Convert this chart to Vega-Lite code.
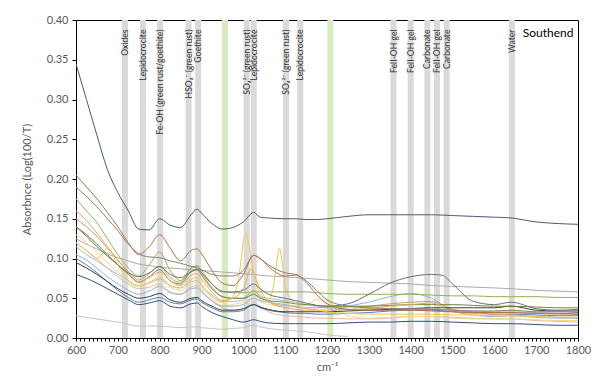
{
  "$schema": "https://vega.github.io/schema/vega-lite/v6.json",
  "autosize": {"type": "none"},
  "padding": {"left": 76, "top": 20, "right": 17, "bottom": 53},
  "width": 502,
  "height": 318,
  "background": "white",
  "config": {
    "view": {"stroke": "#000000", "strokeWidth": 1},
    "font": "Lato",
    "axis": {
      "grid": false,
      "labelOverlap": false,
      "domainColor": "#000000",
      "tickColor": "#000000",
      "labelColor": "#595959",
      "labelFont": "Lato",
      "labelFontSize": 11,
      "titleColor": "#595959",
      "titleFont": "Lato",
      "titleFontSize": 11,
      "titleFontWeight": "normal"
    }
  },
  "datasets": {
    "greyBands": [
      {"cm": 717}, {"cm": 760}, {"cm": 801}, {"cm": 869}, {"cm": 892},
      {"cm": 1008}, {"cm": 1025}, {"cm": 1102}, {"cm": 1136},
      {"cm": 1359}, {"cm": 1400}, {"cm": 1440}, {"cm": 1463}, {"cm": 1486}, {"cm": 1642}
    ],
    "greenBands": [{"cm": 956}, {"cm": 1208}],
    "labels": [
      {"cm": 717, "label": "Oxides"},
      {"cm": 760, "label": "Lepidocrocite"},
      {"cm": 801, "label": "Fe-OH (green rust/goethite)"},
      {"cm": 869, "label": "HSO₄⁻ (green rust)"},
      {"cm": 892, "label": "Goethite"},
      {"cm": 1008, "label": "SO₄²⁻ (green rust)"},
      {"cm": 1025, "label": "Lepidocrocite"},
      {"cm": 1102, "label": "SO₄²⁻ (green rust)"},
      {"cm": 1136, "label": "Lepidocrocite"},
      {"cm": 1359, "label": "FeII-OH gel"},
      {"cm": 1400, "label": "FeII-OH gel"},
      {"cm": 1440, "label": "Carbonate"},
      {"cm": 1463, "label": "FeII-OH gel"},
      {"cm": 1486, "label": "Carbonate"},
      {"cm": 1642, "label": "Water"}
    ],
    "spectra": [
      {"x":600,"A":0.345,"B":0.205,"C":0.190,"D":0.140,"E":0.125,"F":0.175,"G":0.120,"H":0.160,"I":0.130,"J":0.105,"K":0.100,"L":0.080,"M":0.095,"N":0.028,"O":0.120,"P":0.140,"Q":0.150,"R":0.115},
      {"x":610,"A":0.327},
      {"x":625,"A":0.300,"B":0.190,"C":0.178,"D":0.128,"E":0.118,"F":0.160,"G":0.110,"H":0.148,"I":0.120,"J":0.098,"K":0.092,"L":0.075,"M":0.088,"N":0.026,"O":0.110,"P":0.130,"Q":0.140,"R":0.105},
      {"x":650,"A":0.255,"B":0.175,"C":0.165,"D":0.115,"E":0.112,"F":0.145,"G":0.100,"H":0.132,"I":0.108,"J":0.088,"K":0.082,"L":0.069,"M":0.080,"N":0.024,"O":0.100,"P":0.118,"Q":0.128,"R":0.097},
      {"x":675,"A":0.212,"B":0.158,"C":0.150,"D":0.103,"E":0.106,"F":0.125,"G":0.112,"H":0.115,"I":0.095,"J":0.077,"K":0.071,"L":0.062,"M":0.071,"N":0.022,"O":0.088,"P":0.105,"Q":0.113,"R":0.088},
      {"x":700,"A":0.183,"B":0.140,"C":0.135,"D":0.092,"E":0.101,"F":0.105,"G":0.092,"H":0.098,"I":0.083,"J":0.068,"K":0.060,"L":0.055,"M":0.062,"N":0.020,"O":0.077,"P":0.092,"Q":0.098,"R":0.080},
      {"x":725,"A":0.160,"B":0.120,"C":0.118,"D":0.082,"E":0.097,"F":0.088,"G":0.072,"H":0.082,"I":0.072,"J":0.060,"K":0.051,"L":0.048,"M":0.055,"N":0.017,"O":0.068,"P":0.080,"Q":0.084,"R":0.072},
      {"x":750,"A":0.137,"B":0.105,"C":0.106,"D":0.077,"E":0.093,"F":0.078,"G":0.065,"H":0.071,"I":0.066,"J":0.055,"K":0.045,"L":0.042,"M":0.050,"N":0.015,"O":0.062,"P":0.070,"Q":0.073,"R":0.066},
      {"x":775,"A":0.136,"B":0.115,"C":0.102,"D":0.082,"E":0.091,"F":0.092,"G":0.070,"H":0.076,"I":0.069,"J":0.059,"K":0.048,"L":0.044,"M":0.052,"N":0.015,"O":0.064,"P":0.077,"Q":0.081,"R":0.069},
      {"x":800,"A":0.150,"B":0.130,"C":0.101,"D":0.090,"E":0.089,"F":0.108,"G":0.076,"H":0.083,"I":0.073,"J":0.065,"K":0.051,"L":0.047,"M":0.056,"N":0.015,"O":0.068,"P":0.086,"Q":0.090,"R":0.074},
      {"x":825,"A":0.142,"B":0.113,"C":0.097,"D":0.080,"E":0.088,"F":0.085,"G":0.066,"H":0.072,"I":0.064,"J":0.057,"K":0.045,"L":0.040,"M":0.048,"N":0.014,"O":0.058,"P":0.072,"Q":0.076,"R":0.066},
      {"x":850,"A":0.139,"B":0.097,"C":0.094,"D":0.076,"E":0.087,"F":0.072,"G":0.063,"H":0.066,"I":0.060,"J":0.055,"K":0.043,"L":0.038,"M":0.045,"N":0.013,"O":0.055,"P":0.068,"Q":0.070,"R":0.063},
      {"x":875,"A":0.155,"B":0.110,"C":0.090,"D":0.083,"E":0.086,"F":0.088,"G":0.074,"H":0.079,"I":0.068,"J":0.062,"K":0.048,"L":0.043,"M":0.050,"N":0.014,"O":0.064,"P":0.084,"Q":0.088,"R":0.071},
      {"x":890,"A":0.162,"B":0.112,"C":0.088,"D":0.086,"E":0.086,"F":0.091,"G":0.076,"H":0.081,"I":0.070,"J":0.063,"K":0.049,"L":0.044,"M":0.051,"N":0.014,"O":0.066,"P":0.086,"Q":0.090,"R":0.072},
      {"x":900,"A":0.157,"B":0.106,"C":0.086,"D":0.082,"E":0.085,"F":0.085,"G":0.068,"H":0.074,"I":0.064,"J":0.058,"K":0.045,"L":0.040,"M":0.047,"N":0.013,"O":0.060,"P":0.079,"Q":0.082,"R":0.066},
      {"x":925,"A":0.144,"B":0.085,"C":0.080,"D":0.068,"E":0.084,"F":0.068,"G":0.052,"H":0.058,"I":0.050,"J":0.047,"K":0.038,"L":0.032,"M":0.040,"N":0.012,"O":0.046,"P":0.062,"Q":0.064,"R":0.054},
      {"x":950,"A":0.137,"B":0.069,"C":0.078,"D":0.058,"E":0.083,"F":0.059,"G":0.045,"H":0.047,"I":0.041,"J":0.040,"K":0.033,"L":0.027,"M":0.035,"N":0.011,"O":0.038,"P":0.052,"Q":0.052,"R":0.046},
      {"x":975,"A":0.139,"B":0.066,"C":0.078,"D":0.058,"E":0.082,"F":0.057,"G":0.052,"H":0.050,"I":0.042,"J":0.040,"K":0.033,"L":0.023,"M":0.035,"N":0.012,"O":0.035,"P":0.050,"Q":0.050,"R":0.046},
      {"x":990,"G":0.080},
      {"x":1000,"A":0.146,"B":0.080,"C":0.085,"D":0.060,"E":0.081,"F":0.057,"G":0.120,"H":0.062,"I":0.045,"J":0.042,"K":0.035,"L":0.020,"M":0.037,"N":0.013,"O":0.035,"P":0.050,"Q":0.050,"R":0.048},
      {"x":1006,"G":0.132},
      {"x":1012,"G":0.120},
      {"x":1018,"H":0.087},
      {"x":1025,"A":0.158,"B":0.104,"C":0.104,"D":0.068,"E":0.080,"F":0.058,"G":0.082,"H":0.080,"I":0.050,"J":0.050,"K":0.042,"L":0.023,"M":0.042,"N":0.016,"O":0.045,"P":0.055,"Q":0.060,"R":0.055},
      {"x":1040,"A":0.152,"B":0.100,"C":0.100,"D":0.062,"E":0.079,"F":0.058,"G":0.055,"H":0.062,"I":0.046,"J":0.047,"K":0.038,"L":0.021,"M":0.039,"N":0.014,"O":0.040,"P":0.050,"Q":0.052,"R":0.052},
      {"x":1060,"A":0.151,"B":0.090,"C":0.092,"D":0.055,"E":0.078,"F":0.058,"G":0.048,"H":0.046,"I":0.042,"J":0.045,"K":0.035,"L":0.019,"M":0.036,"N":0.012,"O":0.033,"P":0.047,"Q":0.046,"R":0.050},
      {"x":1073,"G":0.068},
      {"x":1080,"G":0.095},
      {"x":1086,"G":0.113},
      {"x":1093,"G":0.095},
      {"x":1100,"A":0.150,"B":0.078,"C":0.082,"D":0.050,"E":0.077,"F":0.058,"G":0.065,"H":0.038,"I":0.040,"J":0.042,"K":0.032,"L":0.018,"M":0.033,"N":0.010,"O":0.028,"P":0.045,"Q":0.040,"R":0.047},
      {"x":1125,"A":0.150,"B":0.079,"C":0.080,"D":0.047,"E":0.076,"F":0.058,"G":0.043,"H":0.036,"I":0.040,"J":0.040,"K":0.031,"L":0.018,"M":0.033,"N":0.009,"O":0.027,"P":0.043,"Q":0.039,"R":0.045},
      {"x":1150,"A":0.149,"B":0.070,"C":0.072,"D":0.044,"E":0.075,"F":0.058,"G":0.037,"H":0.035,"I":0.041,"J":0.037,"K":0.031,"L":0.018,"M":0.033,"N":0.008,"O":0.026,"P":0.042,"Q":0.038,"R":0.042},
      {"x":1175,"A":0.149,"B":0.055,"C":0.060,"D":0.041,"E":0.074,"F":0.057,"G":0.035,"H":0.035,"I":0.048,"J":0.035,"K":0.030,"L":0.018,"M":0.033,"N":0.006,"O":0.025,"P":0.041,"Q":0.038,"R":0.040},
      {"x":1200,"A":0.150,"B":0.043,"C":0.048,"D":0.040,"E":0.073,"F":0.056,"G":0.033,"H":0.035,"I":0.046,"J":0.033,"K":0.030,"L":0.018,"M":0.033,"N":0.004,"O":0.025,"P":0.040,"Q":0.038,"R":0.038},
      {"x":1250,"A":0.153,"B":0.036,"C":0.040,"D":0.043,"E":0.071,"F":0.055,"G":0.031,"H":0.036,"I":0.028,"J":0.040,"K":0.031,"L":0.019,"M":0.034,"N":0.002,"O":0.024,"P":0.040,"Q":0.039,"R":0.036},
      {"x":1300,"A":0.155,"B":0.035,"C":0.038,"D":0.055,"E":0.070,"F":0.055,"G":0.030,"H":0.037,"I":0.025,"J":0.045,"K":0.032,"L":0.020,"M":0.035,"O":0.024,"P":0.040,"Q":0.040,"R":0.035},
      {"x":1350,"A":0.155,"B":0.035,"C":0.037,"D":0.069,"E":0.069,"F":0.055,"G":0.030,"H":0.040,"I":0.026,"J":0.052,"K":0.034,"L":0.020,"M":0.036,"O":0.025,"P":0.041,"Q":0.043,"R":0.035},
      {"x":1400,"A":0.155,"B":0.035,"C":0.037,"D":0.077,"E":0.068,"F":0.055,"G":0.030,"H":0.042,"I":0.027,"J":0.056,"K":0.035,"L":0.021,"M":0.037,"O":0.027,"P":0.042,"Q":0.045,"R":0.036},
      {"x":1450,"A":0.155,"B":0.034,"C":0.036,"D":0.080,"E":0.066,"F":0.054,"G":0.030,"H":0.044,"I":0.027,"J":0.050,"K":0.035,"L":0.021,"M":0.038,"O":0.027,"P":0.042,"Q":0.046,"R":0.036},
      {"x":1475,"D":0.079,"H":0.040},
      {"x":1500,"A":0.154,"B":0.033,"C":0.035,"D":0.068,"E":0.065,"F":0.053,"G":0.029,"H":0.033,"I":0.025,"J":0.034,"K":0.033,"L":0.020,"M":0.038,"O":0.026,"P":0.042,"Q":0.036,"R":0.035},
      {"x":1550,"A":0.153,"B":0.032,"C":0.034,"D":0.046,"E":0.064,"F":0.053,"G":0.029,"H":0.031,"I":0.024,"J":0.029,"K":0.032,"L":0.019,"M":0.038,"O":0.025,"P":0.041,"Q":0.033,"R":0.034},
      {"x":1600,"A":0.152,"B":0.032,"C":0.034,"D":0.042,"E":0.063,"F":0.052,"G":0.028,"H":0.030,"I":0.024,"J":0.027,"K":0.030,"L":0.018,"M":0.038,"O":0.024,"P":0.040,"Q":0.032,"R":0.033},
      {"x":1640,"A":0.151,"B":0.032,"C":0.035,"D":0.045,"E":0.062,"F":0.052,"G":0.028,"H":0.029,"I":0.024,"J":0.028,"K":0.030,"L":0.018,"M":0.040,"O":0.024,"P":0.040,"Q":0.032,"R":0.033},
      {"x":1700,"A":0.146,"B":0.031,"C":0.033,"D":0.037,"E":0.060,"F":0.052,"G":0.027,"H":0.027,"I":0.023,"J":0.026,"K":0.029,"L":0.017,"M":0.035,"O":0.022,"P":0.039,"Q":0.031,"R":0.032},
      {"x":1750,"A":0.144,"B":0.031,"C":0.033,"D":0.035,"E":0.059,"F":0.051,"G":0.026,"H":0.026,"I":0.022,"J":0.025,"K":0.028,"L":0.016,"M":0.034,"O":0.021,"P":0.038,"Q":0.030,"R":0.031},
      {"x":1800,"A":0.143,"B":0.030,"C":0.032,"D":0.036,"E":0.058,"F":0.051,"G":0.026,"H":0.025,"I":0.022,"J":0.025,"K":0.028,"L":0.016,"M":0.034,"O":0.020,"P":0.038,"Q":0.030,"R":0.030}
    ]
  },
  "layer": [
    {
      "data": {"name": "greyBands"},
      "mark": {"type": "rule", "color": "#dadada", "strokeWidth": 6},
      "encoding": {
        "x": {"field": "cm", "type": "quantitative"}
      }
    },
    {
      "data": {"name": "greenBands"},
      "mark": {"type": "rule", "color": "#d6ebc0", "strokeWidth": 6},
      "encoding": {
        "x": {"field": "cm", "type": "quantitative"}
      }
    },
    {
      "data": {"name": "spectra"},
      "transform": [
        {"fold": ["N","E","R","O","Q","I","J","K","L","M","P","H","G","F","D","C","B","A"], "as": ["series", "value"]},
        {"filter": "isValid(datum.value)"}
      ],
      "mark": {"type": "line", "strokeWidth": 1, "interpolate": "monotone", "clip": true},
      "encoding": {
        "x": {
          "field": "x", "type": "quantitative",
          "scale": {"domain": [600, 1800], "nice": false, "zero": false},
          "axis": {
            "title": "cm⁻¹",
            "tickCount": 120,
            "labelExpr": "datum.value % 100 === 0 ? format(datum.value, 'd') : ''",
            "labelOverlap": false,
            "labelFlush": false,
            "tickSize": 3,
            "labelPadding": 3,
            "titlePadding": 6
          }
        },
        "y": {
          "field": "value", "type": "quantitative",
          "scale": {"domain": [0, 0.4], "nice": false},
          "axis": {
            "title": "Absorbnce (Log(100/T)",
            "tickCount": 8,
            "format": ".2f",
            "labelOverlap": false,
            "tickSize": 4,
            "labelPadding": 4,
            "titlePadding": 14
          }
        },
        "color": {
          "field": "series", "type": "nominal", "legend": null,
          "scale": {
            "domain": ["A","B","C","D","E","F","G","H","I","J","K","L","M","N","O","P","Q","R"],
            "range": ["#4a5a78","#b0724a","#8b7d74","#6e6e6e","#ababab","#8fb35a","#f2c744","#f1a45a","#f5d88c","#8db3de","#4f81bd","#2f4f7f","#3b3b2f","#c4c4c4","#e0b8a0","#6f8b3a","#c8a060","#a8bcd4"]
          }
        }
      }
    },
    {
      "data": {"name": "labels"},
      "mark": {"type": "text", "angle": 270, "align": "right", "baseline": "middle", "fontSize": 8.6, "font": "Lato", "color": "#333333"},
      "encoding": {
        "x": {"field": "cm", "type": "quantitative"},
        "y": {"datum": 0.388, "type": "quantitative"},
        "text": {"field": "label"}
      }
    },
    {
      "data": {"values": [{"t": "Southend"}]},
      "mark": {"type": "text", "align": "right", "baseline": "middle", "fontSize": 12, "font": "Lato", "color": "#000000"},
      "encoding": {
        "x": {"datum": 1789, "type": "quantitative"},
        "y": {"datum": 0.384, "type": "quantitative"},
        "text": {"field": "t"}
      }
    }
  ]
}
